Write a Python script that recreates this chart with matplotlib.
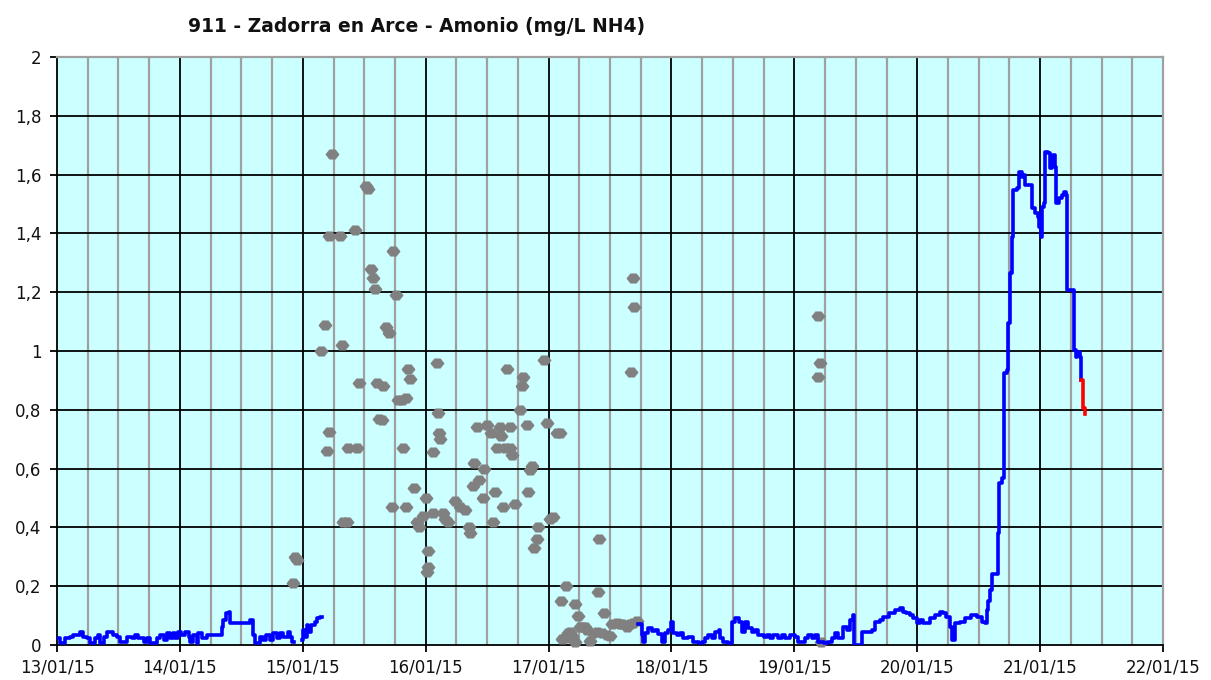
import numpy as np
import matplotlib
matplotlib.use("Agg")
import matplotlib.pyplot as plt
from matplotlib.ticker import FixedLocator

# ---------------- data (hours since 13/01/15 00:00) ----------------
title = "911 - Zadorra en Arce - Amonio (mg/L NH4)"
day_labels = ["13/01/15", "14/01/15", "15/01/15", "16/01/15", "17/01/15",
              "18/01/15", "19/01/15", "20/01/15", "21/01/15", "22/01/15"]
y_ticks = [0, 0.2, 0.4, 0.6, 0.8, 1.0, 1.2, 1.4, 1.6, 1.8, 2.0]
y_tick_labels = ["0", "0,2", "0,4", "0,6", "0,8", "1", "1,2", "1,4", "1,6", "1,8", "2"]

# continuous analyser (blue); NaN = gap
blue_h = [0, 0.6, 1.6, 2.5, 3.2, 4.5, 5.1, 5.8, 6.5, 7.4, 8.1, 8.4, 9.1, 9.7, 10.4,
          11.0, 11.7, 12.3, 13.6, 14.6, 15.2, 15.9, 16.9, 17.5, 18.2, 19.5, 20.1,
          20.8, 21.4, 22.1, 22.7, 23.0, 23.7, 24.3, 25.0, 25.7, 26.0, 26.6, 27.3,
          27.6, 28.3, 29.2, 31.2, 32.2, 32.5, 33.1, 33.5, 33.8, 37.7, 38.3, 38.7,
          39.7, 40.3, 40.9, 41.6, 42.2, 42.9, 43.6, 44.2, 45.2, 45.5, 45.8, 46.2,
          47.8, 48.1, 48.4, 48.8, 49.1, 49.7, 50.4, 50.7, 51.4, 51.7,
          113.5, 114.2, 114.5, 114.8, 115.5, 116.2, 116.8, 117.4, 118.1, 118.8,
          119.4, 120.0, 120.4, 121.0, 121.7, 122.3, 123.3, 124.3, 125.3, 125.9,
          126.6, 127.2, 127.9, 128.5, 129.2, 129.5, 130.1, 131.1, 131.8, 132.4,
          133.1, 133.7, 134.4, 135.0, 135.7, 136.3, 137.0, 138.0, 138.6, 139.2,
          139.9, 140.9, 141.5, 142.2, 143.2, 144.1, 144.8, 146.1, 146.7, 147.4,
          148.0, 148.7, 149.7, 150.6, 151.3, 151.9, 152.6, 153.6, 154.2, 154.9,
          155.5, 155.7, 157.2, 158.2, 159.1, 159.8, 160.7, 161.4, 162.4, 163.7,
          164.6, 165.3, 165.9, 166.6, 167.2, 167.9, 168.5, 169.2, 170.5, 171.4,
          172.4, 173.1, 173.7, 174.4, 174.7, 175.3, 176.3, 177.3, 178.6, 179.6,
          180.6, 181.2, 181.6, 181.9, 182.2, 182.6, 183.7, 183.9, 184.5, 185.0,
          185.5, 185.8, 186.1, 186.5, 186.8, 187.4, 187.9, 188.4, 188.7, 189.1,
          190.4, 191.0, 191.5, 191.8, 192.1, 192.3, 192.7, 193.0, 193.6, 194.0,
          194.3, 194.6, 194.9, 195.2, 195.7, 196.2, 196.7, 197.1, 197.3, 198.6,
          199.0, 199.3, 199.7, 199.9]
blue_v = [0.023, 0.006, 0.023, 0.028, 0.034, 0.045, 0.028, 0.023, 0.006, 0.023,
          0.034, 0.006, 0.028, 0.043, 0.043, 0.034, 0.028, 0.011, 0.028, 0.023,
          0.034, 0.023, 0.011, 0.023, 0.006, 0.023, 0.034, 0.017, 0.040, 0.023,
          0.040, 0.023, 0.045, 0.034, 0.045, 0.028, 0.011, 0.034, 0.006, 0.040,
          0.023, 0.034, 0.034, 0.062, 0.085, 0.108, 0.113, 0.075, 0.085, 0.034,
          0.006, 0.028, 0.017, 0.034, 0.017, 0.040, 0.023, 0.040, 0.028, 0.045,
          0.028, 0.011, np.nan,
          0.017, 0.051, 0.028, 0.068, 0.045, 0.068, 0.079, 0.091, 0.096, np.nan,
          0.073, 0.034, 0.011, 0.040, 0.057, 0.048, 0.051, 0.036, 0.011, 0.040,
          0.051, 0.079, 0.040, 0.034, 0.040, 0.023, 0.028, 0.011, 0.006, 0.011,
          0.023, 0.034, 0.025, 0.045, 0.051, 0.023, 0.011, 0.006, 0.079, 0.091,
          0.079, 0.045, 0.079, 0.057, 0.045, 0.051, 0.034, 0.028, 0.034, 0.025,
          0.034, 0.023, 0.034, 0.025, 0.034, 0.028, 0.011, 0.023, 0.034, 0.023,
          0.034, 0.011, 0.006, 0.011, 0.023, 0.040, 0.023, 0.062, 0.051, 0.085,
          0.102, 0.0, 0.045, 0.045, 0.051, 0.079, 0.085, 0.096, 0.108, 0.119,
          0.125, 0.113, 0.108, 0.102, 0.091, 0.074, 0.085, 0.074, 0.091, 0.102,
          0.113, 0.108, 0.096, 0.062, 0.017, 0.074, 0.079, 0.091, 0.102, 0.096,
          0.079, 0.074, 0.12, 0.148, 0.187, 0.24, 0.38, 0.551, 0.567, 0.924,
          0.935, 1.094, 1.264, 1.389, 1.548, 1.553, 1.61, 1.593, 1.598, 1.565,
          1.486, 1.469, 1.457, 1.423, 1.389, 1.491, 1.503, 1.678, 1.673, 1.621,
          1.66, 1.667, 1.627, 1.503, 1.519, 1.531, 1.542, 1.531, 1.207, 1.003,
          0.98, 0.997, 0.98, 0.90]

# latest values (red)
red_h = [199.9, 200.3, 200.8]
red_v = [0.90, 0.805, 0.785]

# lab / grab samples (grey points)
pts_h = [46.1, 46.5, 46.9, 51.6, 52.3, 52.7, 53.1, 53.1, 53.7, 55.3, 55.7, 55.8,
         56.6, 56.8, 58.2, 58.6, 59.0, 60.3, 60.7, 61.3, 61.7, 62.1, 62.5, 62.9,
         63.5, 63.7, 64.2, 64.8, 65.4, 65.6, 66.2, 66.6, 67.4, 67.6, 68.2, 68.2,
         68.5, 68.9, 69.7, 70.3, 70.7, 71.5, 72.1, 72.4, 72.4, 72.3, 73.4, 73.4,
         74.2, 74.4, 74.6, 74.8, 75.4, 75.8, 76.4, 77.7, 78.7, 79.7, 80.5, 80.7,
         81.2, 81.4, 82.0, 82.4, 83.2, 83.4, 84.0, 84.8, 85.1, 85.5, 85.9, 86.5,
         86.7, 87.1, 87.5, 87.9, 88.5, 88.5, 88.9, 89.4, 90.4, 90.8, 91.0, 91.8,
         92.0, 92.4, 92.8, 93.1, 93.7, 93.9, 95.1, 95.7, 96.3, 96.9, 97.6, 98.2,
         98.4, 99.2, 99.4, 99.6, 99.8, 100.2, 101.2, 101.7, 102.1, 102.5, 103.1,
         103.5, 104.1, 104.7, 105.5, 105.7, 105.8, 106.4, 106.8, 107.4, 108.0,
         108.4, 109.4, 109.9, 110.3, 111.3, 111.9, 112.1, 112.5, 112.5, 112.7,
         113.3, 98.6, 100.6, 101.2, 148.6, 148.6, 149.0, 149.2]
pts_v = [0.21, 0.30, 0.29, 1.00, 1.09, 0.66, 1.39, 0.725, 1.67, 1.39, 1.02, 0.42,
         0.42, 0.67, 1.41, 0.67, 0.89, 1.56, 1.55, 1.28, 1.25, 1.21, 0.89, 0.77,
         0.765, 0.88, 1.08, 1.06, 0.47, 1.34, 1.19, 0.835, 0.835, 0.67, 0.84, 0.47,
         0.94, 0.905, 0.535, 0.42, 0.40, 0.44, 0.50, 0.32, 0.265, 0.25, 0.655, 0.45,
         0.96, 0.79, 0.72, 0.70, 0.45, 0.43, 0.42, 0.49, 0.47, 0.46, 0.40, 0.38,
         0.54, 0.62, 0.74, 0.56, 0.50, 0.60, 0.75, 0.72, 0.42, 0.52, 0.67, 0.74,
         0.71, 0.47, 0.67, 0.94, 0.74, 0.67, 0.645, 0.48, 0.80, 0.88, 0.91, 0.75,
         0.52, 0.595, 0.61, 0.33, 0.36, 0.40, 0.97, 0.755, 0.43, 0.435, 0.72, 0.72,
         0.15, 0.025, 0.20, 0.035, 0.04, 0.045, 0.14, 0.10, 0.06, 0.06, 0.06,
         0.05, 0.015, 0.04, 0.045, 0.18, 0.36, 0.04, 0.11, 0.035, 0.03,
         0.07, 0.075, 0.07, 0.07, 0.06, 0.07, 0.93, 1.25, 0.075, 1.15,
         0.08, 0.02, 0.03, 0.01, 1.12, 0.91, 0.96, 0.01]

# ---------------- figure ----------------
plt.rcParams['font.family'] = ['DejaVu Sans']
fig = plt.figure(figsize=(12.11, 6.80), dpi=100)
fig.patch.set_facecolor("white")
ax = fig.add_axes([57 / 1211, 35 / 680, 1106 / 1211, 588 / 680])
ax.set_facecolor("#CCFFFF")

ax.set_xlim(0, 216)
ax.set_ylim(0, 2)

# grid
for h in range(6, 216, 6):
    if h % 24:
        ax.axvline(h, color="#A0A0A0", lw=1.6, zorder=1)
for h in range(24, 216, 24):
    ax.axvline(h, color="black", lw=1.3, zorder=1.5)
for yv in y_ticks[1:-1]:
    ax.axhline(yv, color="black", lw=1.3, zorder=1.5)

hex_marker = [(-1, 0), (-0.45, 0.7), (0.45, 0.7), (1, 0), (0.45, -0.7), (-0.45, -0.7), (-1, 0)]
ax.plot(pts_h, pts_v, linestyle="none", marker=hex_marker, ms=9.5, color="#808080",
        mec="#808080", mew=0.5, zorder=3, clip_on=False)
ax.plot(blue_h, blue_v, color="#0000FF", lw=2.6, drawstyle="steps-post", zorder=4)
ax.plot(red_h, red_v, color="#FF0000", lw=2.6, drawstyle="steps-post", zorder=4)

# spines
for s in ("left", "bottom"):
    ax.spines[s].set_color("black")
    ax.spines[s].set_linewidth(1.3)
for s in ("top", "right"):
    ax.spines[s].set_color("#A0A0A0")
    ax.spines[s].set_linewidth(1.6)

ax.xaxis.set_major_locator(FixedLocator(list(range(0, 217, 24))))
ax.set_xticklabels(day_labels)
ax.set_yticks(y_ticks)
ax.set_yticklabels(y_tick_labels)
ax.tick_params(axis="both", direction="out", length=5, width=1.3, color="black",
               labelsize=12, labelcolor="#111111")
ax.tick_params(axis="x", pad=5)
ax.tick_params(axis="y", pad=6)

fig.text(417 / 1211, 1 - 27 / 680, title, ha="center", va="center",
         fontsize=13.5, fontweight="bold", color="#111111")

fig.savefig("out.png", dpi=100)
